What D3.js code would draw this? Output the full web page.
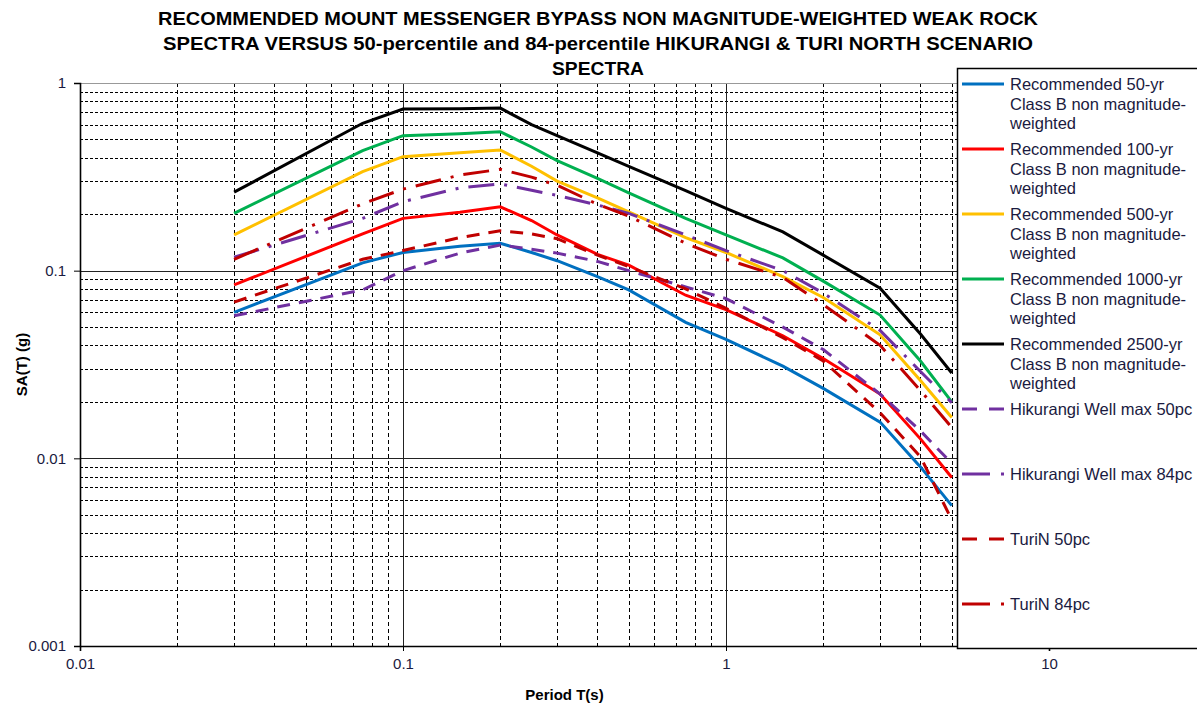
<!DOCTYPE html>
<html>
<head>
<meta charset="utf-8">
<script src="https://cdn.jsdelivr.net/npm/d3@7"></script>
<style>
  body { margin: 0; background: #fff; }
  svg { font-family: "Liberation Sans", Arial, sans-serif; }
</style>
</head>
<body>
<div id="chart"></div>
<script>
// periods (s)
const periods = [0.03, 0.075, 0.1, 0.15, 0.2, 0.25, 0.3, 0.4, 0.5, 0.75, 1, 1.5, 2, 3, 4, 5];

// SA(T) values (g)
const rec50   = [0.060, 0.110, 0.125, 0.135, 0.140, 0.125, 0.113, 0.093, 0.079, 0.053, 0.043, 0.031, 0.0236, 0.0156, 0.0090, 0.0056];
const rec100  = [0.084, 0.157, 0.190, 0.205, 0.219, 0.185, 0.155, 0.122, 0.107, 0.074, 0.062, 0.045, 0.034, 0.022, 0.0127, 0.0079];
const rec500  = [0.155, 0.337, 0.405, 0.425, 0.440, 0.360, 0.300, 0.244, 0.206, 0.150, 0.125, 0.093, 0.072, 0.0455, 0.026, 0.0165];
const rec1000 = [0.202, 0.436, 0.524, 0.537, 0.550, 0.456, 0.386, 0.310, 0.260, 0.190, 0.155, 0.117, 0.088, 0.058, 0.033, 0.020];
const rec2500 = [0.262, 0.610, 0.727, 0.730, 0.735, 0.600, 0.524, 0.424, 0.360, 0.267, 0.215, 0.161, 0.121, 0.0806, 0.046, 0.0285];
const hik50   = [0.0575, 0.079, 0.100, 0.124, 0.137, 0.130, 0.124, 0.112, 0.100, 0.082, 0.071, 0.050, 0.038, 0.022, 0.014, 0.0094];
const hik84   = [0.118, 0.190, 0.233, 0.276, 0.290, 0.268, 0.252, 0.224, 0.202, 0.155, 0.128, 0.100, 0.076, 0.048, 0.029, 0.0198];
const turi50  = [0.068, 0.115, 0.128, 0.150, 0.163, 0.157, 0.148, 0.121, 0.105, 0.080, 0.063, 0.044, 0.033, 0.0175, 0.0102, 0.0047];
const turi84  = [0.115, 0.227, 0.272, 0.323, 0.347, 0.315, 0.285, 0.226, 0.195, 0.140, 0.115, 0.092, 0.066, 0.040, 0.023, 0.0146];

const series = [
    {name: ['Recommended 50-yr', 'Class B non magnitude-', 'weighted'], values: rec50, color: '#0070C0', dash: null},
    {name: ['Recommended 100-yr', 'Class B non magnitude-', 'weighted'], values: rec100, color: '#FF0000', dash: null},
    {name: ['Recommended 500-yr', 'Class B non magnitude-', 'weighted'], values: rec500, color: '#FFC000', dash: null},
    {name: ['Recommended 1000-yr', 'Class B non magnitude-', 'weighted'], values: rec1000, color: '#00B050', dash: null},
    {name: ['Recommended 2500-yr', 'Class B non magnitude-', 'weighted'], values: rec2500, color: '#000000', dash: null},
    {name: ['Hikurangi Well max 50pc'], values: hik50, color: '#7030A0', dash: '13,9'},
    {name: ['Hikurangi Well max 84pc'], values: hik84, color: '#7030A0', dash: '26,10,3,10'},
    {name: ['TuriN 50pc'], values: turi50, color: '#C00000', dash: '13,9'},
    {name: ['TuriN 84pc'], values: turi84, color: '#C00000', dash: '26,10,3,10'}
];

const title_lines = [
    'RECOMMENDED MOUNT MESSENGER BYPASS NON MAGNITUDE-WEIGHTED WEAK ROCK',
    'SPECTRA VERSUS 50-percentile and 84-percentile HIKURANGI & TURI NORTH SCENARIO',
    'SPECTRA'
];
const x_ticks = [0.01, 0.1, 1, 10];
const y_ticks = [0.001, 0.01, 0.1, 1];

const chart_width = 1197;
const chart_height = 706;
const plot_left = 80, plot_right = 1049, plot_top = 83, plot_bottom = 646;

const svg = d3.select('#chart')
    .append('svg')
    .attr('width', chart_width)
    .attr('height', chart_height);

// scales
const x_scale = d3.scaleLog().domain([0.01, 10]).range([plot_left, plot_right]);
const y_scale = d3.scaleLog().domain([0.001, 1]).range([plot_bottom, plot_top]);

const is_major = v => Math.abs(Math.log10(v) - Math.round(Math.log10(v))) < 1e-6;

// gridlines
const grid = svg.append('g');
grid.selectAll('.hgrid')
    .data(y_scale.ticks().filter(v => v > 0.001 && v < 1))
    .enter()
    .append('line')
    .attr('x1', plot_left).attr('x2', plot_right)
    .attr('y1', d => Math.round(y_scale(d)) + 0.5)
    .attr('y2', d => Math.round(y_scale(d)) + 0.5)
    .attr('stroke', d => is_major(d) ? '#222' : '#000')
    .attr('stroke-width', 1)
    .attr('stroke-dasharray', d => is_major(d) ? null : '3,2');

grid.selectAll('.vgrid')
    .data(x_scale.ticks().filter(v => v > 0.01 && v < 10))
    .enter()
    .append('line')
    .attr('y1', plot_top).attr('y2', plot_bottom)
    .attr('x1', d => Math.round(x_scale(d)) + 0.5)
    .attr('x2', d => Math.round(x_scale(d)) + 0.5)
    .attr('stroke', d => is_major(d) ? '#222' : '#000')
    .attr('stroke-width', 1)
    .attr('stroke-dasharray', d => is_major(d) ? null : '4,3');

// plot border (top / right)
svg.append('line')
    .attr('x1', plot_left).attr('x2', plot_right)
    .attr('y1', plot_top + 0.5).attr('y2', plot_top + 0.5)
    .attr('stroke', '#999');
svg.append('line')
    .attr('x1', plot_right + 0.5).attr('x2', plot_right + 0.5)
    .attr('y1', plot_top).attr('y2', plot_bottom)
    .attr('stroke', '#999');

// axes
const y_axis = svg.append('g')
    .attr('transform', `translate(${plot_left},0)`)
    .call(d3.axisLeft(y_scale).tickValues(y_ticks).tickFormat(d3.format('~g')).tickSizeOuter(0).tickSize(6).tickPadding(8));
const x_axis = svg.append('g')
    .attr('transform', `translate(0,${plot_bottom})`)
    .call(d3.axisBottom(x_scale).tickValues(x_ticks).tickFormat(d3.format('~g')).tickSizeOuter(0).tickSize(5).tickPadding(7));
[y_axis, x_axis].forEach(a => {
    a.select('.domain').attr('stroke', '#000').attr('stroke-width', 1.6);
    a.selectAll('.tick line').attr('stroke', '#000');
    a.selectAll('text')
        .attr('font-family', '"Liberation Sans", Arial, sans-serif')
        .attr('font-size', 15)
        .attr('fill', '#1a1a40');
});

// lines
const line = d3.line()
    .x((d, i) => x_scale(periods[i]))
    .y(d => y_scale(d));

svg.append('g')
    .selectAll('path')
    .data(series)
    .enter()
    .append('path')
    .attr('d', d => line(d.values))
    .attr('fill', 'none')
    .attr('stroke', d => d.color)
    .attr('stroke-width', 3)
    .attr('stroke-dasharray', d => d.dash);

// titles
svg.append('g')
    .selectAll('text')
    .data(title_lines)
    .enter()
    .append('text')
    .text(d => d)
    .attr('x', 598)
    .attr('y', (d, i) => 25 + i * 25)
    .attr('text-anchor', 'middle')
    .attr('font-weight', 'bold')
    .attr('font-size', 18)
    .attr('textLength', (d, i) => [880, 870, 92][i])
    .attr('lengthAdjust', 'spacingAndGlyphs');

svg.append('text')
    .text('Period T(s)')
    .attr('x', (plot_left + plot_right) / 2)
    .attr('y', 700)
    .attr('text-anchor', 'middle')
    .attr('font-weight', 'bold')
    .attr('font-size', 15);

svg.append('text')
    .text('SA(T) (g)')
    .attr('transform', `translate(27,${(plot_top + plot_bottom) / 2}) rotate(-90)`)
    .attr('text-anchor', 'middle')
    .attr('font-weight', 'bold')
    .attr('font-size', 15);

// legend
const legend = svg.append('g');
legend.append('rect')
    .attr('x', 957.5).attr('y', 68.5)
    .attr('width', 260).attr('height', 580)
    .attr('fill', '#fff')
    .attr('stroke', '#000')
    .attr('stroke-width', 1.5);

const items = legend.selectAll('.item')
    .data(series)
    .enter()
    .append('g')
    .attr('transform', (d, i) => `translate(0,${84 + i * 65})`);
items.append('line')
    .attr('x1', 962).attr('x2', 1004)
    .attr('y1', 0).attr('y2', 0)
    .attr('stroke', d => d.color)
    .attr('stroke-width', 3)
    .attr('stroke-dasharray', d => d.dash ? (d.dash === '13,9' ? '15,12' : '28,11,3,10') : null);
items.append('text')
    .attr('x', 1010)
    .attr('y', 6)
    .attr('font-size', 16.5)
    .attr('fill', '#1a1a40')
    .selectAll('tspan')
    .data(d => d.name)
    .enter()
    .append('tspan')
    .attr('x', 1010)
    .attr('dy', (d, i) => i === 0 ? 0 : 19.5)
    .text(d => d);
</script>
</body>
</html>
